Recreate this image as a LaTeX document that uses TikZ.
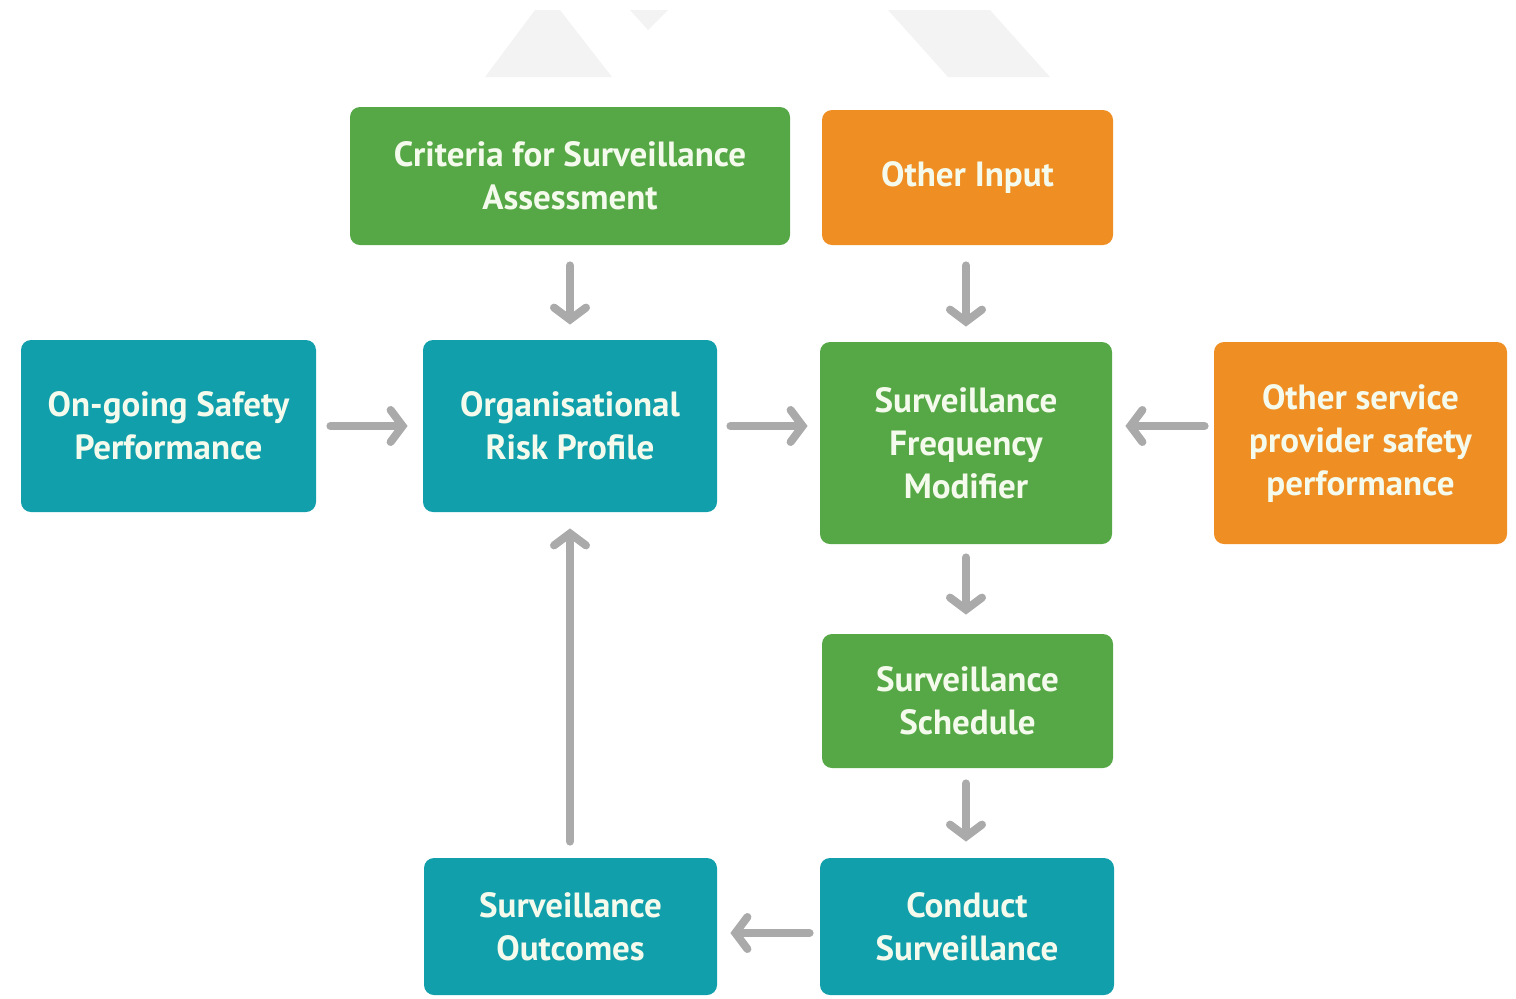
\documentclass[tikz,border=0pt]{standalone}
\usepackage{fontspec}
\setmainfont{PT Sans}
\usetikzlibrary{arrows.meta}
\definecolor{cgreen}{HTML}{56A846}
\definecolor{cteal}{HTML}{119FAB}
\definecolor{corange}{HTML}{EF8E23}
\definecolor{carrow}{HTML}{AAAAAA}
\definecolor{cwater}{HTML}{F3F3F3}
\definecolor{ctext}{HTML}{F4FAEC}
\tikzset{
  box/.style={rectangle, rounded corners=5pt, inner sep=0pt, align=center,
    text=ctext, font=\bfseries\fontsize{17.5}{21.5}\selectfont},
  gbox/.style={box, fill=cgreen},
  tbox/.style={box, fill=cteal},
  obox/.style={box, fill=corange},
  arr/.style={draw=carrow, line width=4pt, line cap=round,
    -{Straight Barb[length=6pt,width=16pt,line cap=round]}},
  water/.style={fill=cwater, draw=none}
}
\begin{document}
\begin{tikzpicture}[x=0.5pt,y=-0.5pt]
\useasboundingbox (0,0) rectangle (1516,998);
% faint watermark
\fill[water] (485,77) -- (612,77) -- (560,10) -- (535,10) -- cycle;
\fill[water] (630,10) -- (668,10) -- (648,30) -- cycle;
\fill[water] (888,10) -- (990,10) -- (1050,77) -- (948,77) -- cycle;
% boxes
\node[gbox, minimum width=220pt, minimum height=69pt] (crit) at (570,176) {Criteria for Surveillance\\Assessment};
\node[obox, minimum width=145.5pt, minimum height=67.5pt] (oinp) at (967.5,177.5) {Other Input};
\node[tbox, minimum width=147.5pt, minimum height=86pt] (ongo) at (168.5,426) {On-going Safety\\Performance};
\node[tbox, minimum width=147pt, minimum height=86pt] (org) at (570,426) {Organisational\\Risk Profile};
\node[gbox, minimum width=146pt, minimum height=101pt] (sfm) at (966,443) {Surveillance\\Frequency\\Modifier};
\node[obox, minimum width=146.5pt, minimum height=101pt] (osp) at (1360.5,443) {Other service\\provider safety\\performance};
\node[gbox, minimum width=145.5pt, minimum height=67pt] (sched) at (967.5,701) {Surveillance\\Schedule};
\node[tbox, minimum width=146.5pt, minimum height=68.5pt] (outc) at (570.5,926.5) {Surveillance\\Outcomes};
\node[tbox, minimum width=147pt, minimum height=68.5pt] (cond) at (967,926.5) {Conduct\\Surveillance};
% connectors
\draw[arr, shorten <=10pt, shorten >=7.5pt] (crit.south) -- (crit.south |- org.north);
\draw[arr, shorten <=10pt, shorten >=7.5pt] (oinp.south -| sfm) -- (sfm.north);
\draw[arr, shorten <=7pt, shorten >=7.5pt] (ongo.east |- org) -- (org.west);
\draw[arr, shorten <=6.5pt, shorten >=6pt] (org.east) -- (org.east -| sfm.west);
\draw[arr, shorten <=4.5pt, shorten >=6.5pt] (osp.west |- org) -- (sfm.east |- org);
\draw[arr, shorten <=6.5pt, shorten >=9.5pt] (sfm.south) -- (sched.north -| sfm);
\draw[arr, shorten <=7.5pt, shorten >=8pt] (sched.south -| sfm) -- (cond.north -| sfm);
\draw[arr, shorten <=5pt, shorten >=6.5pt] (cond.west |- 0,933) -- (outc.east |- 0,933);
\draw[arr, shorten <=8pt, shorten >=8pt] (outc.north -| org) -- (org.south);
\end{tikzpicture}
\end{document}
